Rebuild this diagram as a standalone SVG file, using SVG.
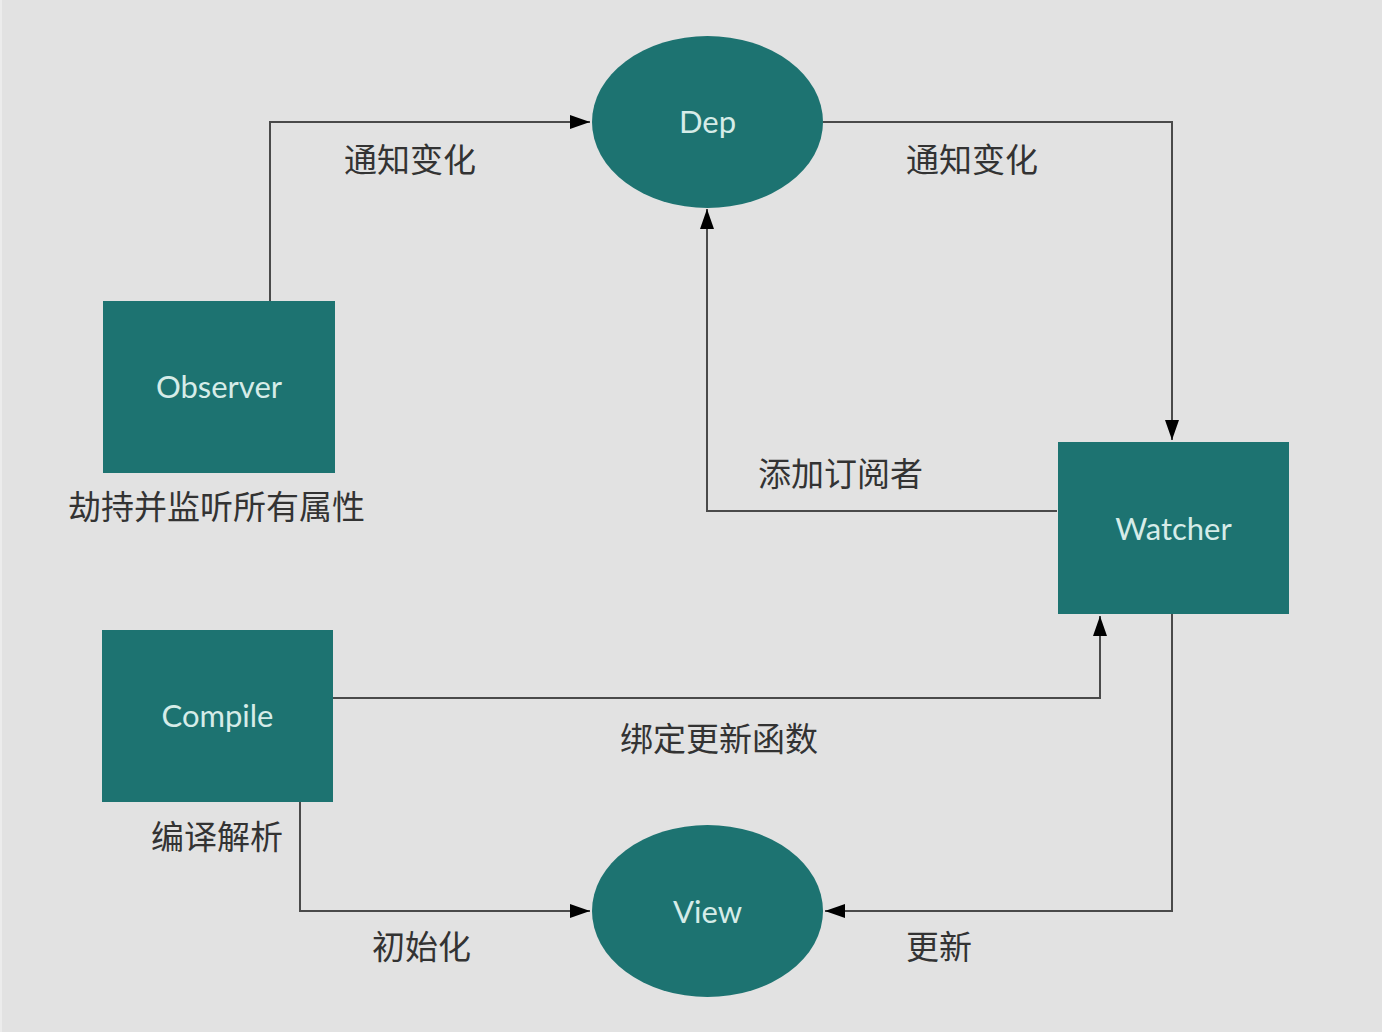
<svg xmlns="http://www.w3.org/2000/svg" width="1382" height="1032" viewBox="0 0 1382 1032">
<style>
.node{fill:#1d7371}
.nt{font-family:Lato,"Open Sans","Noto Sans",sans-serif;font-size:31px;fill:#d6ece8;text-anchor:middle}
.lb{font-family:"Noto Sans CJK SC","Noto Sans",sans-serif;font-size:33px;fill:#333333}
.edge{fill:none;stroke:#4a4a4a;stroke-width:2}
</style>
<defs>
<marker id="arr" viewBox="0 0 20 14" refX="20" refY="7" markerWidth="20" markerHeight="14" markerUnits="userSpaceOnUse" orient="auto">
<path d="M0,0 L20,7 L0,14 Z" fill="#000"/>
</marker>
</defs>
<rect x="0" y="0" width="1382" height="1032" fill="#e2e2e2"/>
<rect x="0" y="0" width="2" height="1032" fill="#ececec"/>
<g id="connectors">
<path class="edge" d="M270,301 V122 H590" marker-end="url(#arr)"/>
<path class="edge" d="M823,122 H1172 V440" marker-end="url(#arr)"/>
<path class="edge" d="M1057,511 H707 V209" marker-end="url(#arr)"/>
<path class="edge" d="M333,698 H1100 V616" marker-end="url(#arr)"/>
<path class="edge" d="M300,802 V911 H590" marker-end="url(#arr)"/>
<path class="edge" d="M1172,614 V911 H825" marker-end="url(#arr)"/>
</g>
<g id="dep">
<ellipse class="node" cx="707.5" cy="122" rx="115.5" ry="86"/>
<text class="nt" x="707.5" y="133">Dep</text>
</g>
<g id="observer">
<rect class="node" x="103" y="301" width="232" height="172"/>
<text class="nt" x="219" y="398">Observer</text>
</g>
<g id="watcher">
<rect class="node" x="1058" y="442" width="231" height="172"/>
<text class="nt" x="1173.5" y="540">Watcher</text>
</g>
<g id="compile">
<rect class="node" x="102" y="630" width="231" height="172"/>
<text class="nt" x="217.5" y="727">Compile</text>
</g>
<g id="view">
<ellipse class="node" cx="707.5" cy="911" rx="115.5" ry="86"/>
<text class="nt" x="707.5" y="923">View</text>
</g>
<g id="labels">
<text class="lb" x="344" y="172">通知变化</text>
<text class="lb" x="906" y="172">通知变化</text>
<text class="lb" x="68" y="519">劫持并监听所有属性</text>
<text class="lb" x="758" y="486">添加订阅者</text>
<text class="lb" x="620" y="751">绑定更新函数</text>
<text class="lb" x="151" y="849">编译解析</text>
<text class="lb" x="372" y="959">初始化</text>
<text class="lb" x="906" y="959">更新</text>
</g>
</svg>
